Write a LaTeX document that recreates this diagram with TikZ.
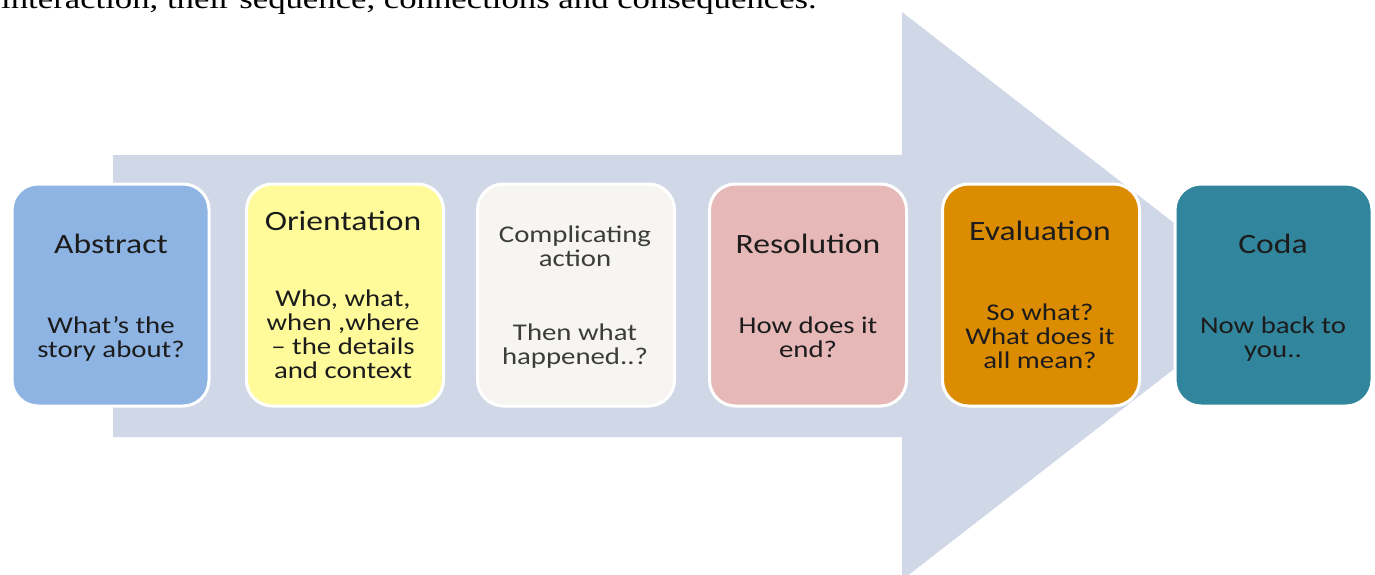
\documentclass[tikz,border=0pt]{standalone}
\usepackage{fontspec}
\setmainfont{Carlito}[FakeStretch=1.2]
\newfontfamily\leadserif{Liberation Serif}[FakeStretch=1.24]

\definecolor{flow}{HTML}{D0D8E8}
\definecolor{cAbs}{HTML}{8EB4E3}
\definecolor{cOri}{HTML}{FFFB9B}
\definecolor{cCom}{HTML}{F6F5F1}
\definecolor{cRes}{HTML}{E6B8B7}
\definecolor{cEva}{HTML}{DC8C00}
\definecolor{cCod}{HTML}{31859C}
\definecolor{ink}{HTML}{1C1C1C}
\definecolor{inkgrey}{HTML}{3C3C3C}

\tikzset{
  stage/.style={draw=white, line width=3pt, rounded corners=26pt,
    minimum width=197pt, minimum height=222pt, inner sep=0pt},
  ttl/.style={anchor=base, inner sep=0pt, text=ink,
    font=\fontsize{28}{28}\selectfont},
  sub/.style={anchor=base, inner sep=0pt, text=ink,
    font=\fontsize{24}{24}\selectfont},
}

\begin{document}
\begin{tikzpicture}[x=1pt,y=-1pt]
\useasboundingbox (0,0) rectangle (1375,575);
\clip (0,0) rectangle (1375,575);
\fill[white] (0,0) rectangle (1375,575);

% last line of the preceding paragraph, cut by the top edge
\node[anchor=base west, inner sep=0pt, font=\leadserif\fontsize{28}{28}\selectfont]
  (lead) at (1,9) {interaction, their sequence, connections and consequences.};

% the broad arrow behind the stages
\fill[flow] (113,155) -- (902,155) -- (902,12) -- (1268,296)
  -- (902,580) -- (902,437) -- (113,437) -- cycle;

% stages
\node[stage, fill=cAbs] (abs) at (110.5,295) {};
\node[stage, fill=cOri] (ori) at (345,295) {};
\node[stage, fill=cCom] (com) at (576,295) {};
\node[stage, fill=cRes] (res) at (808,295) {};
\node[stage, fill=cEva] (eva) at (1041,295) {};
\node[stage, fill=cCod] (cod) at (1273.5,295) {};

% Abstract
\node[ttl] (absT) at (111,253) {Abstract};
\node[sub] (absA) at (111,333) {What’s the};
\node[sub] (absB) at (111,357) {story about?};

% Orientation
\node[ttl] (oriT) at (343,230) {Orientation};
\node[sub] (oriA) at (343,306) {Who, what,};
\node[sub] (oriB) at (343,330) {when ,where};
\node[sub] (oriC) at (343,354) {– the details};
\node[sub] (oriD) at (343,378) {and context};

% Complicating action
\node[sub, text=inkgrey] (comT) at (575,242) {Complicating};
\node[sub, text=inkgrey] (comU) at (575,266) {action};
\node[sub, text=inkgrey] (comA) at (575,340) {Then what};
\node[sub, text=inkgrey] (comB) at (575,364) {happened..?};

% Resolution
\node[ttl] (resT) at (808,253) {Resolution};
\node[sub] (resA) at (808,333) {How does it};
\node[sub] (resB) at (808,357) {end?};

% Evaluation
\node[ttl] (evaT) at (1040,240) {Evaluation};
\node[sub] (evaA) at (1040,320) {So what?};
\node[sub] (evaB) at (1040,344) {What does it};
\node[sub] (evaC) at (1040,368) {all mean?};

% Coda
\node[ttl] (codT) at (1273,253) {Coda};
\node[sub] (codA) at (1273,333) {Now back to};
\node[sub] (codB) at (1273,357) {you..};
\end{tikzpicture}
\end{document}
